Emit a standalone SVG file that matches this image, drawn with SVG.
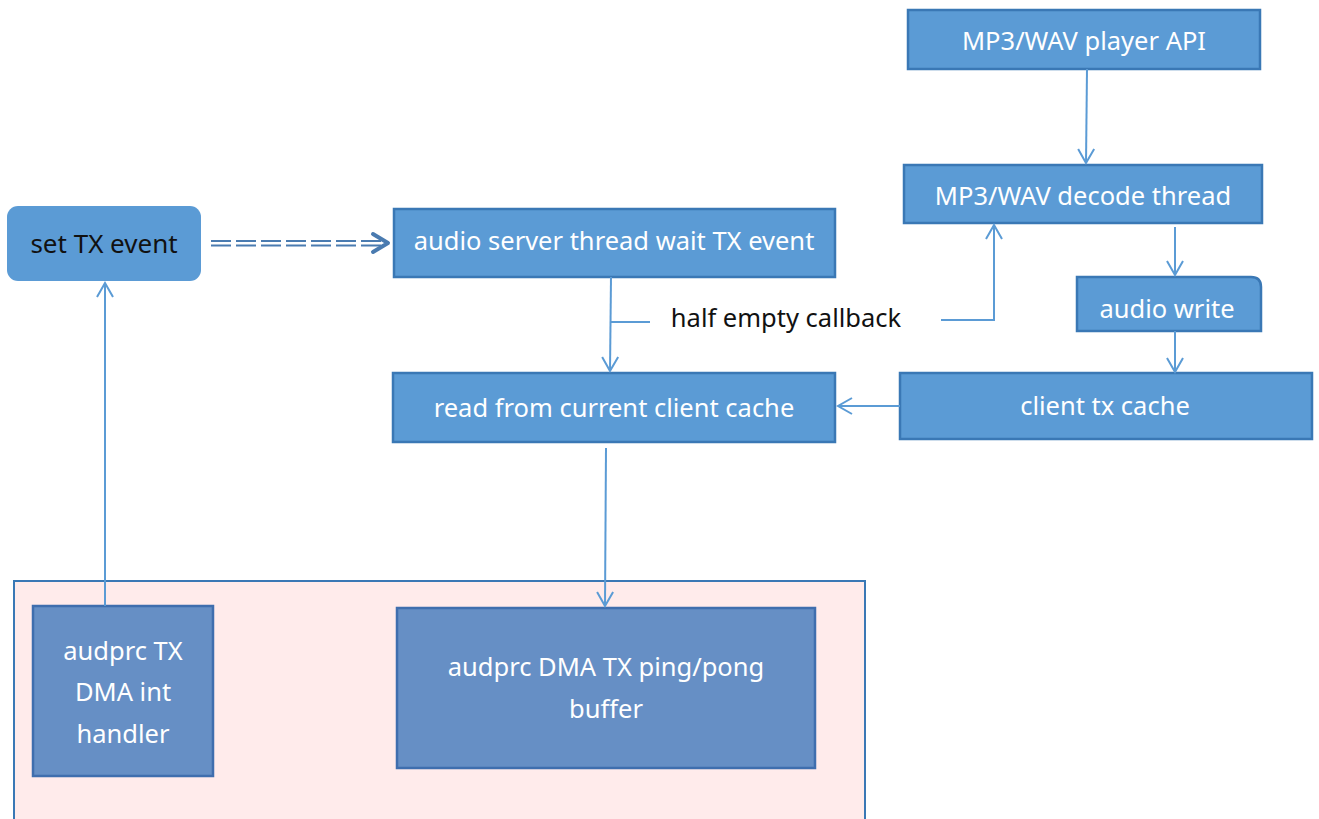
<svg xmlns="http://www.w3.org/2000/svg" width="1319" height="819" viewBox="0 0 1319 819">
  <defs>
    <style>
      .box { fill: #5B9BD5; stroke: #3A78B5; stroke-width: 2.5; }
      .hw { fill: #668FC5; stroke: #3F6EAE; stroke-width: 2.5; }
      .lbl { font-family: "Noto Sans", "Open Sans", sans-serif; font-size: 25.5px; fill: #FFFFFF; text-anchor: middle; }
      .dark { fill: #111111; }
      .wire { fill: none; stroke: #5B9BD5; stroke-width: 2; }
    </style>
    <marker id="arr" viewBox="0 0 20 20" refX="18" refY="10" markerWidth="20" markerHeight="20" markerUnits="userSpaceOnUse" orient="auto">
      <path d="M4,2 L18,10 L4,18" fill="none" stroke="#5B9BD5" stroke-width="2"/>
    </marker>
  </defs>

  <rect width="1319" height="819" fill="#FFFFFF"/>

  <!-- hardware container -->
  <g id="hw-container">
    <rect x="14" y="581" width="851" height="250" fill="#FFEBEB" stroke="#3A78B5" stroke-width="2"/>
  </g>

  <g id="set-tx-event">
    <rect x="7" y="206" width="194" height="75" rx="11" fill="#5B9BD5"/>
    <text class="lbl dark" x="104" y="253" style="font-size:26px">set TX event</text>
  </g>

  <g id="server-thread">
    <rect class="box" x="394" y="209" width="441" height="68"/>
    <text class="lbl" x="614" y="250">audio server thread wait TX event</text>
  </g>

  <g id="player-api">
    <rect class="box" x="908" y="10" width="352" height="59"/>
    <text class="lbl" x="1084" y="50">MP3/WAV player API</text>
  </g>

  <g id="decode-thread">
    <rect class="box" x="904" y="165" width="358" height="58"/>
    <text class="lbl" x="1083" y="205">MP3/WAV decode thread</text>
  </g>

  <g id="audio-write">
    <path class="box" d="M1077,277 H1251 Q1261,277 1261,287 V331 H1077 Z"/>
    <text class="lbl" x="1167" y="318">audio  write</text>
  </g>

  <g id="client-tx-cache">
    <rect class="box" x="900" y="373" width="412" height="66"/>
    <text class="lbl" x="1105" y="415">client tx cache</text>
  </g>

  <g id="read-cache">
    <rect class="box" x="393" y="373" width="442" height="69"/>
    <text class="lbl" x="614" y="417">read from current client cache</text>
  </g>

  <g id="dma-int-handler">
    <rect class="hw" x="33" y="606" width="180" height="170"/>
    <text class="lbl" x="123" y="660">audprc TX</text>
    <text class="lbl" x="123" y="701">DMA int</text>
    <text class="lbl" x="123" y="743">handler</text>
  </g>

  <g id="dma-buffer">
    <rect class="hw" x="397" y="608" width="418" height="160"/>
    <text class="lbl" x="606" y="676">audprc DMA TX ping/pong</text>
    <text class="lbl" x="606" y="718">buffer</text>
  </g>

  <g id="callback-label">
    <text class="lbl dark" x="786" y="327">half empty callback</text>
  </g>

  <g id="connectors">
    <!-- event notification (dashed, double) -->
    <line x1="211" y1="241" x2="385" y2="241" stroke="#4A7BB0" stroke-width="2" stroke-dasharray="20,5"/>
    <line x1="211" y1="245.5" x2="385" y2="245.5" stroke="#4A7BB0" stroke-width="2" stroke-dasharray="20,5"/>
    <path d="M373,234 L388,243 L373,252" fill="none" stroke="#4A7BB0" stroke-width="4" stroke-linecap="round" stroke-linejoin="round"/>

    <line class="wire" x1="1087" y1="69" x2="1086" y2="163" marker-end="url(#arr)"/>
    <line class="wire" x1="1175" y1="227" x2="1175" y2="275" marker-end="url(#arr)"/>
    <line class="wire" x1="1175" y1="331" x2="1175" y2="372" marker-end="url(#arr)"/>
    <line class="wire" x1="900" y1="406" x2="838" y2="406" marker-end="url(#arr)"/>

    <!-- half empty callback path -->
    <line class="wire" x1="611" y1="277" x2="610" y2="371" marker-end="url(#arr)"/>
    <line class="wire" x1="611" y1="322" x2="650" y2="322"/>
    <polyline class="wire" points="941,320 994,320 994,225" marker-end="url(#arr)"/>

    <line class="wire" x1="606" y1="448" x2="605" y2="606" marker-end="url(#arr)"/>
    <line class="wire" x1="105" y1="606" x2="105" y2="283" marker-end="url(#arr)"/>
  </g>
</svg>
